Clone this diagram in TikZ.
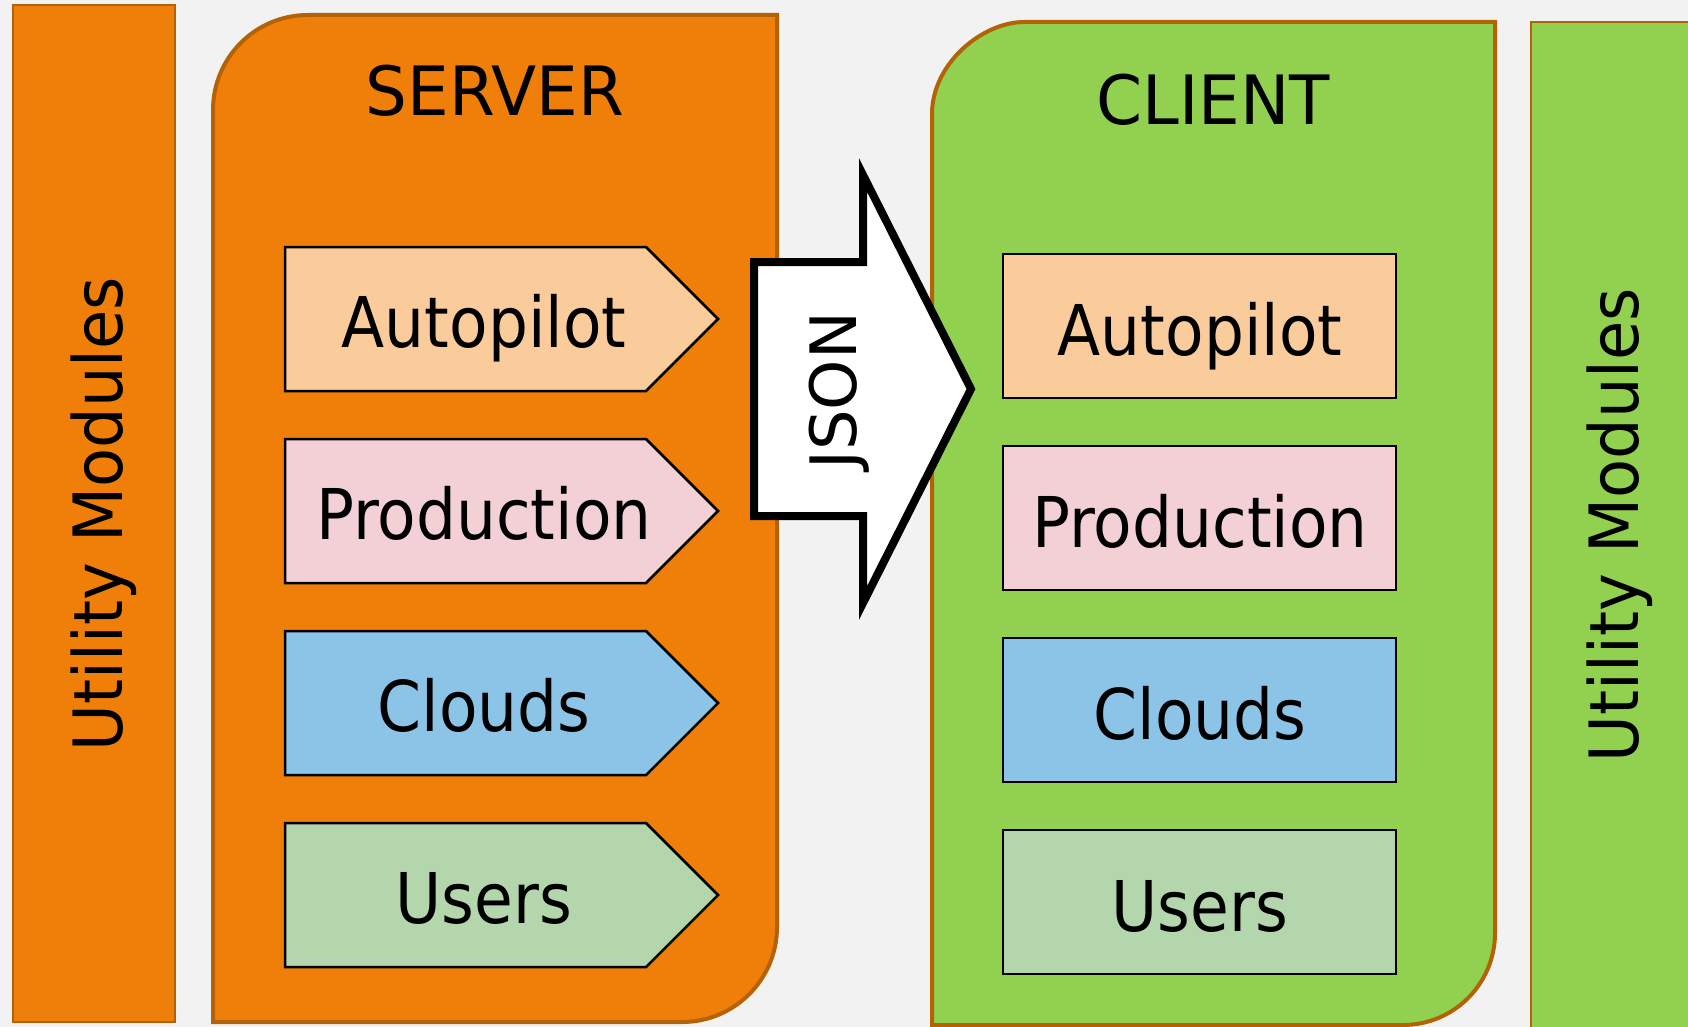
\documentclass[tikz,border=0pt]{standalone}
\usepackage{fontspec}
\setmainfont{DejaVu Sans}[FakeStretch=0.9]
\newfontfamily\titlefont{DejaVu Sans}[FakeStretch=0.97]
\newfontfamily\utilfont{DejaVu Sans}[FakeStretch=0.94]
\newfontfamily\jsonfont{DejaVu Sans}
\definecolor{bg}{HTML}{F2F2F2}
\definecolor{orangef}{HTML}{F07F09}
\definecolor{greenf}{HTML}{92D050}
\definecolor{brd}{HTML}{B46206}
\definecolor{peach}{HTML}{FACB9B}
\definecolor{pinkf}{HTML}{F2D0D5}
\definecolor{bluef}{HTML}{8BC4E6}
\definecolor{lgreen}{HTML}{B4D6AD}
\tikzset{
  panel/.style={draw=brd, line width=4pt},
  utilbox/.style={draw=brd, line width=2.5pt},
  modbox/.style={draw=black, line width=2.5pt, line join=miter},
  lbl/.style={anchor=base, inner sep=0pt, font=\fontsize{70}{84}\selectfont},
  title/.style={anchor=base, inner sep=0pt, font=\titlefont\fontsize{68}{80}\selectfont},
  utiltext/.style={anchor=base, inner sep=0pt, rotate=90, font=\utilfont\fontsize{68}{80}\selectfont},
}
\begin{document}
\begin{tikzpicture}[x=1pt,y=-1pt]
\useasboundingbox (0,0) rectangle (1688,1027);
\clip (0,0) rectangle (1688,1027);
\fill[bg] (0,0) rectangle (1688,1027);
% utility modules left
\draw[utilbox, fill=orangef] (13,5) rectangle (175,1022);
\node[utiltext] (utilL) at (122,514) {Utility Modules};
% server panel
\draw[panel, fill=orangef] (213,1022) -- (213,110) .. controls (213,57.5) and (255.5,15) .. (308,15)
  -- (777,15) -- (777,927) .. controls (777,979.5) and (734.5,1022) .. (682,1022) -- cycle;
\node[title] (server) at (495,116) {SERVER};
% client panel
\draw[panel, fill=greenf] (932,1025) -- (932,114) .. controls (932,63.2) and (982.8,22) .. (1024,22)
  -- (1495,22) -- (1495,933) .. controls (1495,983.8) and (1453.8,1025) .. (1403,1025) -- cycle;
\node[title] (client) at (1213,125) {CLIENT};
% utility modules right
\draw[utilbox, fill=greenf] (1531,22) rectangle (1700,1040);
\node[utiltext] (utilR) at (1638,525) {Utility Modules};
% server modules
\foreach \y/\c/\t/\n in {247/peach/Autopilot/sa, 439/pinkf/Production/sp, 631/bluef/Clouds/sc, 823/lgreen/Users/su}{
  \draw[modbox, fill=\c] (285,\y) -- (646,\y) -- (718,\y+72) -- (646,\y+144) -- (285,\y+144) -- cycle;
  \node[lbl] (\n) at (484,\y+100) {\t};
}
% client modules
\foreach \y/\c/\t/\n in {254/peach/Autopilot/ca, 446/pinkf/Production/cp, 638/bluef/Clouds/cc, 830/lgreen/Users/cu}{
  \draw[modbox, fill=\c] (1003,\y) rectangle (1396,\y+144);
  \node[lbl] (\n) at (1200,\y+101) {\t};
}
% JSON arrow
\draw[line width=8pt, line join=miter, miter limit=10, fill=white]
  (754,262) -- (863,262) -- (863,175) -- (971,389) -- (863,603) -- (863,516) -- (754,516) -- cycle;
\node[anchor=base, inner sep=0pt, rotate=90, font=\jsonfont\fontsize{64}{76}\selectfont] (json) at (856,391) {JSON};
\end{tikzpicture}
\end{document}
